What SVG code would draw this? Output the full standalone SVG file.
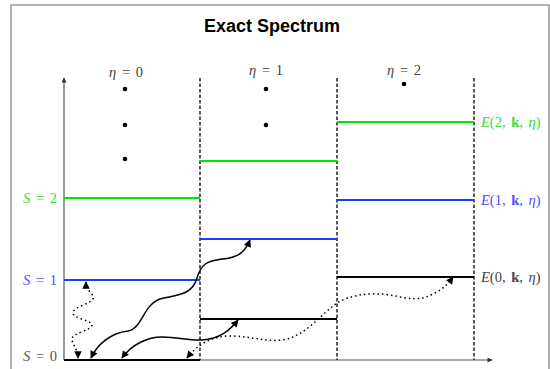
<svg xmlns="http://www.w3.org/2000/svg" width="550" height="369" viewBox="0 0 550 369">
<style>
.math{font-family:"Liberation Serif","DejaVu Serif",serif;font-size:14.5px;word-spacing:2px}
.it{font-style:italic}
.bf{font-weight:bold}
.lvl{stroke-width:2;fill:none}
.g{stroke:#00e600}
.b{stroke:#1a3cff}
.k{stroke:#000}
.dash{stroke:#000;stroke-width:1.3;stroke-dasharray:3.5 2;fill:none}
.wave{stroke:#000;stroke-width:1.5;fill:none;marker-start:url(#ah);marker-end:url(#ah)}
.dot{stroke:#000;stroke-width:1.5;fill:none;stroke-dasharray:1.5 3;marker-start:url(#ah);marker-end:url(#ah)}
</style>
<defs>
<marker id="ah" viewBox="0 0 10 10" refX="9" refY="5" markerWidth="9" markerHeight="7.5" markerUnits="userSpaceOnUse" orient="auto-start-reverse">
<path d="M0,0 L10,5 L0,10 z" fill="#000"/>
</marker>
<marker id="ax" viewBox="0 0 10 10" refX="9" refY="5" markerWidth="6" markerHeight="5" markerUnits="userSpaceOnUse" orient="auto">
<path d="M0,0 L10,5 L0,10 z" fill="#333"/>
</marker>
</defs>
<rect x="0" y="0" width="550" height="369" fill="#fff"/>
<rect x="11" y="5" width="538" height="380" fill="#fff" stroke="#999" stroke-width="1.5"/>
<text x="272" y="32" text-anchor="middle" font-family="Liberation Sans, Arial, sans-serif" font-weight="bold" font-size="18" fill="#000">Exact Spectrum</text>

<g id="axes">
<line x1="64" y1="360" x2="64" y2="78" stroke="#555" stroke-width="1.2" marker-end="url(#ax)"/>
<line x1="64" y1="360" x2="492" y2="360" stroke="#555" stroke-width="1.2" marker-end="url(#ax)"/>
</g>

<g id="dividers">
<line class="dash" x1="200" y1="78" x2="200" y2="360"/>
<line class="dash" x1="337" y1="78" x2="337" y2="360"/>
<line class="dash" x1="474" y1="78" x2="474" y2="360"/>
</g>

<g id="eta0">
<text class="math" x="126" y="77" text-anchor="middle" fill="#444"><tspan class="it">η</tspan> = 0</text>
<circle cx="125" cy="89" r="2.3"/>
<circle cx="125" cy="125" r="2.3"/>
<circle cx="125" cy="159" r="2.3"/>
<line class="lvl g" x1="64" y1="198" x2="200" y2="198"/>
<line class="lvl b" x1="64" y1="280" x2="200" y2="280"/>
<line class="lvl k" x1="64" y1="360" x2="200" y2="360"/>
</g>

<g id="eta1">
<text class="math" x="266" y="75" text-anchor="middle" fill="#444"><tspan class="it">η</tspan> = 1</text>
<circle cx="266" cy="89" r="2.3"/>
<circle cx="266" cy="125" r="2.3"/>
<line class="lvl g" x1="200" y1="161" x2="337" y2="161"/>
<line class="lvl b" x1="200" y1="239" x2="337" y2="239"/>
<line class="lvl k" x1="200" y1="319" x2="337" y2="319"/>
</g>

<g id="eta2">
<text class="math" x="404" y="75" text-anchor="middle" fill="#444"><tspan class="it">η</tspan> = 2</text>
<circle cx="404" cy="84" r="2.3"/>
<line class="lvl g" x1="337" y1="122" x2="474" y2="122"/>
<line class="lvl b" x1="337" y1="200" x2="474" y2="200"/>
<line class="lvl k" x1="337" y1="277" x2="474" y2="277"/>
</g>

<g id="left-labels">
<text class="math" x="57" y="203" text-anchor="end" fill="#33dd33"><tspan class="it">S</tspan> = 2</text>
<text class="math" x="57" y="285" text-anchor="end" fill="#4d4dff"><tspan class="it">S</tspan> = 1</text>
<text class="math" x="57" y="361" text-anchor="end" fill="#555"><tspan class="it">S</tspan> = 0</text>
</g>

<g id="right-labels">
<text class="math" x="481" y="127" fill="#33dd33"><tspan class="it">E</tspan>(2, <tspan class="bf">k</tspan>, <tspan class="it">η</tspan>)</text>
<text class="math" x="481" y="205" fill="#4d4dff"><tspan class="it">E</tspan>(1, <tspan class="bf">k</tspan>, <tspan class="it">η</tspan>)</text>
<text class="math" x="481" y="282" fill="#444"><tspan class="it">E</tspan>(0, <tspan class="bf">k</tspan>, <tspan class="it">η</tspan>)</text>
</g>

<g id="connectors">
<path class="dot" d="M86,282 C86,292 95,294 93,299 C90,304 73,307 73,313 C73,319 92,320 92,325 C92,330 72,333 72,339 C72,345 78,349 78,358"/>
<path class="wave" d="M91,358 C97,345 110,333 128,331 C142,329 143,305 160,299 C175,295 192,296 197,278 C201,264 207,261 222,259 C238,258 245,252 250,240"/>
<path class="wave" d="M122,358 C132,344 148,337 162,337 C178,337 190,341 202,340 C220,339 230,330 238,320"/>
<path class="dot" d="M187,358 C198,344 212,336 230,336 C250,336 265,342 282,340 C305,337 320,315 337,303 C350,295 370,292 390,295 C410,299 420,301 433,294 C443,289 448,284 453,277"/>
</g>
</svg>
